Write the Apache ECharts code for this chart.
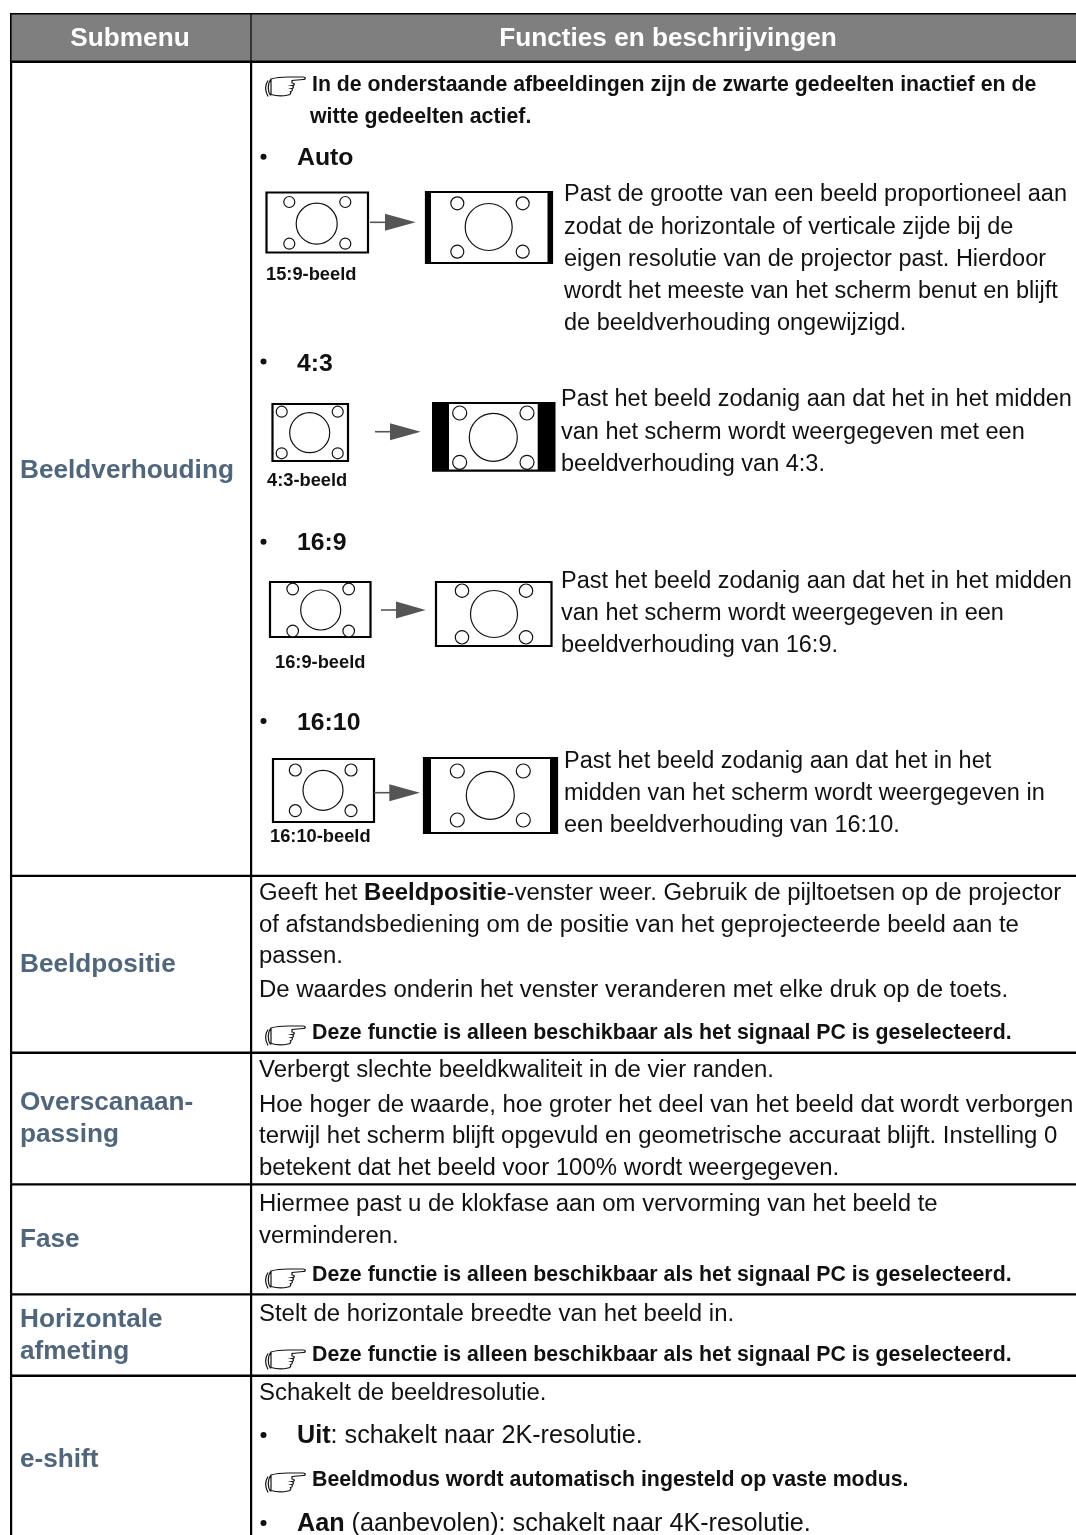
<!DOCTYPE html>
<html>
<head>
<meta charset="utf-8">
<style>
html, body { margin: 0; padding: 0; background: #fff; }
#chart { width: 1076px; height: 1535px; }
</style>
<script src="https://cdn.jsdelivr.net/npm/echarts@6/dist/echarts.min.js"></script>
</head>
<body>
<div id="chart"></div>
<script>
// table text
const columnHeaders = ['Submenu', 'Functies en beschrijvingen'];
const introNote = ['In de onderstaande afbeeldingen zijn de zwarte gedeelten inactief en de', 'witte gedeelten actief.'];
const modeNames = ['Auto', '4:3', '16:9', '16:10'];
const sourceLabels = ['15:9-beeld', '4:3-beeld', '16:9-beeld', '16:10-beeld'];
const autoText = ['Past de grootte van een beeld proportioneel aan', 'zodat de horizontale of verticale zijde bij de', 'eigen resolutie van de projector past. Hierdoor', 'wordt het meeste van het scherm benut en blijft', 'de beeldverhouding ongewijzigd.'];
const text43 = ['Past het beeld zodanig aan dat het in het midden', 'van het scherm wordt weergegeven met een', 'beeldverhouding van 4:3.'];
const text169 = ['Past het beeld zodanig aan dat het in het midden', 'van het scherm wordt weergegeven in een', 'beeldverhouding van 16:9.'];
const text1610 = ['Past het beeld zodanig aan dat het in het', 'midden van het scherm wordt weergegeven in', 'een beeldverhouding van 16:10.'];
const positieText = ['{n|Geeft het }{b|Beeldpositie}{n|-venster weer. Gebruik de pijltoetsen op de projector}', 'of afstandsbediening om de positie van het geprojecteerde beeld aan te', 'passen.'];
const positieText2 = 'De waardes onderin het venster veranderen met elke druk op de toets.';
const pcNote = 'Deze functie is alleen beschikbaar als het signaal PC is geselecteerd.';
const overscanText = 'Verbergt slechte beeldkwaliteit in de vier randen.';
const overscanText2 = ['Hoe hoger de waarde, hoe groter het deel van het beeld dat wordt verborgen', 'terwijl het scherm blijft opgevuld en geometrische accuraat blijft. Instelling 0', 'betekent dat het beeld voor 100% wordt weergegeven.'];
const faseText = ['Hiermee past u de klokfase aan om vervorming van het beeld te', 'verminderen.'];
const horizontalText = 'Stelt de horizontale breedte van het beeld in.';
const shiftText = 'Schakelt de beeldresolutie.';
const shiftOff = '{b|Uit}{n|: schakelt naar 2K-resolutie.}';
const shiftNote = 'Beeldmodus wordt automatisch ingesteld op vaste modus.';
const shiftOn = '{b|Aan}{n| (aanbevolen): schakelt naar 4K-resolutie.}';

const FONT = '"Liberation Sans", Arial, sans-serif';
const BODY = 23.95, PIC = 23.5, NOTE = 21.3, SOURCE = 18.3, MODE = 24.8, BULLET = 25.2, LABEL = 26.2;
const INK = '#111';
const LABEL_COLOR = '#4f667c';
const items = [];

function line(x, y, text, size, weight, color, align) {
  items.push({
    type: 'text', silent: true, x: x, y: y,
    style: { text: text, fill: color || INK, font: (weight || 'normal') + ' ' + size + 'px ' + FONT, align: align || 'left', verticalAlign: 'middle' }
  });
}
function lines(x, y, list, size, step, weight) {
  list.forEach(function (t, i) { line(x, y + i * step, t, size, weight); });
}
function richLine(x, y, text, size) {
  items.push({
    type: 'text', silent: true, x: x, y: y,
    style: {
      text: text, verticalAlign: 'middle', align: 'left',
      rich: {
        n: { font: 'normal ' + size + 'px ' + FONT, fill: INK },
        b: { font: 'bold ' + size + 'px ' + FONT, fill: INK }
      }
    }
  });
}
function box(x, y, w, h, fill) {
  items.push({ type: 'rect', silent: true, shape: { x: x, y: y, width: w, height: h }, style: { fill: fill } });
}
function frame(x, y, w, h, lw) {
  items.push({ type: 'rect', silent: true, shape: { x: x, y: y, width: w, height: h }, style: { fill: '#fff', stroke: '#000', lineWidth: lw } });
}
function circle(cx, cy, r) {
  items.push({ type: 'circle', silent: true, shape: { cx: cx, cy: cy, r: r }, style: { fill: '#fff', stroke: '#111', lineWidth: 1.2 } });
}
function circles(xl, xr, yt, yb, r, cx, cy, R) {
  circle(xl, yt, r); circle(xr, yt, r); circle(xl, yb, r); circle(xr, yb, r); circle(cx, cy, R);
}
function arrow(x0, x1, x2, y) {
  items.push({ type: 'line', silent: true, shape: { x1: x0, y1: y, x2: x1 + 1, y2: y }, style: { stroke: '#555', lineWidth: 1.6 } });
  items.push({ type: 'polygon', silent: true, shape: { points: [[x1, y - 8.5], [x2, y], [x1, y + 8.5]] }, style: { fill: '#555' } });
}
function bullet(y) {
  items.push({ type: 'circle', silent: true, shape: { cx: 263.5, cy: y, r: 3 }, style: { fill: '#111' } });
}
// pointing hand in front of the notes
const handPath = 'M7 3C12 1.5 18 1 24 1L39 1C42 1 42 3.5 39 3.5L28 4.5L28 7C31 7 31 9.5 28 9.5C30 10 30 12.5 27.5 12.5C29 13 28.5 15.5 26.5 15.5C27.5 17 26 19 24 19C18 20.5 12 20 7 18.5Z' +
  'M6.5 3.5C3.5 8 3.5 15 6.5 19.5M4 4.5C1 9 1 15 4 20.5';
echarts.graphic.registerShape('hand', echarts.graphic.extendPath(handPath, {}));
function hand(x, y) {
  items.push({
    type: 'hand', silent: true, x: x, y: y,
    style: { fill: '#fff', stroke: '#111', lineWidth: 1.2 }
  });
}

// header band and grid
box(11, 14, 1065, 47, '#7f7f7f');
box(10, 13, 1066, 1.5, '#000');
box(10, 60.5, 1066, 2.5, '#000');
box(10, 13, 1.6, 50, '#000');
box(250.4, 13, 1.2, 50, '#000');
box(10, 62, 2.2, 1473, '#000');
box(250, 62, 2.2, 1473, '#000');
[874.8, 1051.6, 1183.2, 1293.2, 1374.6].forEach(function (y) { box(10, y, 1066, 2.3, '#000'); });

line(130, 39, columnHeaders[0], LABEL, 'bold', '#fff', 'center');
line(668, 39, columnHeaders[1], LABEL, 'bold', '#fff', 'center');

// left column
line(20, 471, 'Beeldverhouding', LABEL, 'bold', LABEL_COLOR);
line(20, 965, 'Beeldpositie', LABEL, 'bold', LABEL_COLOR);
line(20, 1103, 'Overscanaan-', LABEL, 'bold', LABEL_COLOR);
line(20, 1135, 'passing', LABEL, 'bold', LABEL_COLOR);
line(20, 1240, 'Fase', LABEL, 'bold', LABEL_COLOR);
line(20, 1320, 'Horizontale', LABEL, 'bold', LABEL_COLOR);
line(20, 1352, 'afmeting', LABEL, 'bold', LABEL_COLOR);
line(20, 1460, 'e-shift', LABEL, 'bold', LABEL_COLOR);

// intro note
hand(264, 76);
line(312, 85, introNote[0], NOTE, 'bold');
line(310, 117, introNote[1], NOTE, 'bold');

// Auto
bullet(156.7); line(297, 158, modeNames[0], MODE, 'bold');
frame(266.5, 192.5, 101.5, 60, 2.2);
circles(289.3, 345.3, 202, 243.7, 5.5, 316.7, 223.7, 20.5);
arrow(370, 385, 415.7, 222.3);
frame(426, 192, 126, 71, 2.2);
box(425, 191, 6, 72.5, '#000'); box(547.5, 191, 5, 72.5, '#000');
circles(457.3, 522.7, 203.3, 251.7, 6.5, 488.7, 227, 23.5);
line(266, 275, sourceLabels[0], SOURCE, 'bold');
lines(564, 195, autoText, PIC, 32.2);

// 4:3
bullet(361.5); line(297, 364, modeNames[1], MODE, 'bold');
frame(272.5, 404, 75.5, 57, 2.2);
circles(281.7, 337.7, 411.7, 453.3, 5.5, 309.7, 432.7, 20);
arrow(375, 390, 420.7, 431.7);
box(432, 402, 123.5, 69.7, '#000');
box(449, 404, 88.7, 65.5, '#fff');
circles(459.7, 527, 413, 462.3, 7, 493.3, 437.3, 24);
line(267, 480.5, sourceLabels[1], SOURCE, 'bold');
lines(561, 400, text43, PIC, 32.2);

// 16:9
bullet(541.7); line(297, 543, modeNames[2], MODE, 'bold');
frame(270, 582, 100.5, 55, 2.2);
circles(292.7, 348.7, 589, 631, 5.8, 320.7, 610, 20);
arrow(381, 396, 425.7, 610);
frame(436, 582, 115.5, 64, 2.2);
circles(462, 526, 590.7, 637.3, 6.7, 494, 614, 23.5);
line(275, 662.5, sourceLabels[2], SOURCE, 'bold');
lines(561, 581.5, text169, PIC, 32);

// 16:10
bullet(721); line(297, 723, modeNames[3], MODE, 'bold');
frame(273, 759, 101, 63, 2.2);
circles(295.3, 351, 770, 810.7, 6, 323, 790.3, 20);
arrow(374, 389.3, 420, 792.7);
frame(424, 758, 133, 75, 2.2);
box(423.3, 757.3, 7.7, 76.4, '#000'); box(550, 757.3, 7.7, 76.4, '#000');
circles(457.3, 523.3, 771, 820, 7, 490.3, 795.3, 24);
line(270, 837, sourceLabels[3], SOURCE, 'bold');
lines(564, 762, text1610, PIC, 31.7);

// Beeldpositie
richLine(259, 893.5, positieText[0], BODY);
lines(259, 925, positieText.slice(1), BODY, 31.5);
line(259, 990, positieText2, BODY);
hand(264, 1025); line(312, 1033, pcNote, NOTE, 'bold');

// Overscan
line(259, 1070, overscanText, BODY);
lines(259, 1105.5, overscanText2, BODY, 31.2);

// Fase
lines(259, 1204.5, faseText, BODY, 31.7);
hand(264, 1268); line(312, 1275, pcNote, NOTE, 'bold');

// Horizontale afmeting
line(259, 1314, horizontalText, BODY);
hand(264, 1349); line(312, 1355, pcNote, NOTE, 'bold');

// e-shift
line(259, 1393, shiftText, BODY);
bullet(1435); richLine(297, 1436.5, shiftOff, BULLET);
hand(264, 1472); line(312, 1480, shiftNote, NOTE, 'bold');
bullet(1523); richLine(297, 1524, shiftOn, BULLET);

const chart = echarts.init(document.getElementById('chart'));
chart.setOption({
  backgroundColor: '#fff',
  animation: false,
  graphic: { elements: items }
});
</script>
</body>
</html>
